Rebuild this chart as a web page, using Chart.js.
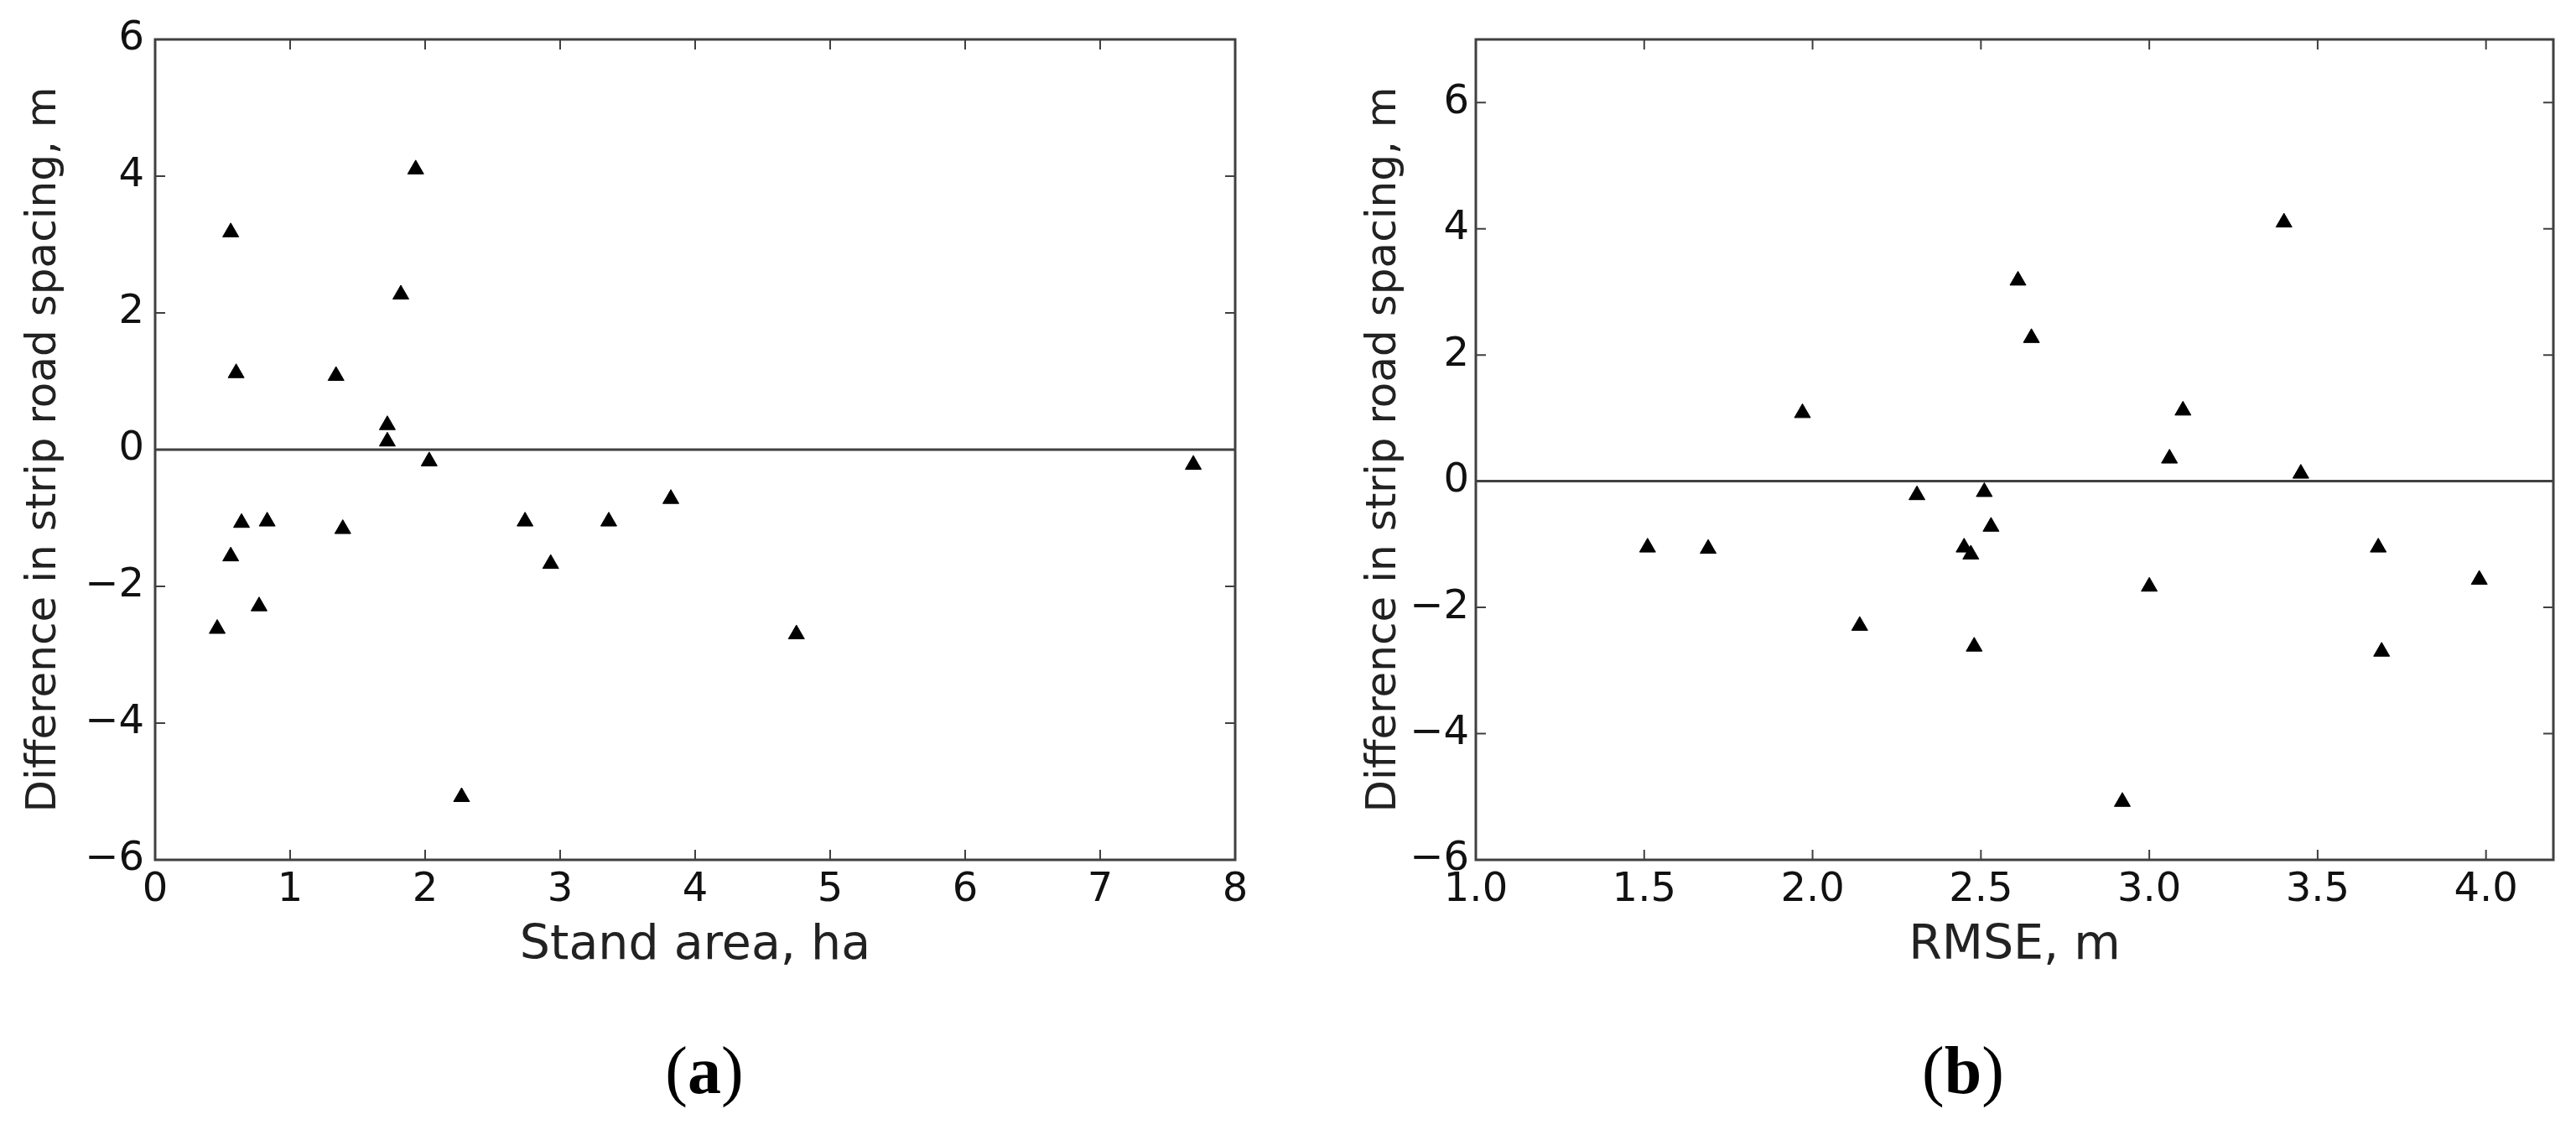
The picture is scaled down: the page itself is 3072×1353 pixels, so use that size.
<!DOCTYPE html>
<html>
<head>
<meta charset="utf-8">
<script src="https://cdn.jsdelivr.net/npm/chart.js@4.4.1/dist/chart.umd.min.js"></script>
<style>
  body { margin: 0; background: #fff; width: 3072px; height: 1353px; position: relative; overflow: hidden; }
  .panel { position: absolute; top: 0; height: 1200px; }
  #panelA { left: 0; width: 1536px; }
  #panelB { left: 1540px; width: 1532px; }
  .cap { position: absolute; top: 1236px; font-family: "Liberation Serif", serif; font-size: 80px; line-height: 80px; color: #000; transform: translateX(-50%); white-space: nowrap; }
</style>
</head>
<body>
<div class="panel" id="panelA"><canvas id="chartA"></canvas></div>
<div class="panel" id="panelB"><canvas id="chartB"></canvas></div>
<div class="cap" style="left:840px">(<b>a</b>)</div>
<div class="cap" style="left:2341px">(<b>b</b>)</div>
<script>
// one value per stand, same order in every array
const difference = [4.10, 3.18, 2.27, 1.12, 1.08, 0.36, 0.12, -0.17, -0.22, -0.72, -1.07,
                    -1.05, -1.05, -1.05, -1.16, -1.56, -1.67, -2.29, -2.62, -2.70, -5.08];
const standArea = [1.93, 0.56, 1.82, 0.60, 1.34, 1.72, 1.72, 2.03, 7.69, 3.82, 0.64,
                   0.83, 2.74, 3.36, 1.39, 0.56, 2.93, 0.77, 0.46, 4.75, 2.27];
const rmse = [3.40, 2.61, 2.65, 3.10, 1.97, 3.06, 3.45, 2.51, 2.31, 2.53, 1.69,
              1.51, 2.45, 3.68, 2.47, 3.98, 3.00, 2.14, 2.48, 3.69, 2.92];

const xTicksA = [0, 1, 2, 3, 4, 5, 6, 7, 8];
const yTicksA = [-6, -4, -2, 0, 2, 4, 6];
const xTicksB = [1.0, 1.5, 2.0, 2.5, 3.0, 3.5, 4.0];
const yTicksB = [-6, -4, -2, 0, 2, 4, 6];

const yTitle = 'Difference in strip road spacing, m';
const axisColor = '#404040';

function fmt(v, digits) {
    const s = Math.abs(v).toFixed(digits);
    return v < 0 ? '\u2212' + s : s;
}

// frame, inward ticks on all four sides and the zero line
const framePlugin = {
    id: 'frame',
    beforeDatasetsDraw(chart) {
        const {ctx, chartArea: a, scales: {y}} = chart;
        const y0 = y.getPixelForValue(0);
        ctx.save();
        ctx.strokeStyle = axisColor;
        ctx.lineWidth = 3;
        ctx.beginPath();
        ctx.moveTo(a.left, y0);
        ctx.lineTo(a.right, y0);
        ctx.stroke();
        ctx.restore();
    },
    afterDraw(chart) {
        const {ctx, chartArea: a, scales: {x, y}} = chart;
        const len = 12;
        ctx.save();
        ctx.strokeStyle = axisColor;
        ctx.lineWidth = 2;
        ctx.beginPath();
        x.ticks.forEach(t => {
            const px = x.getPixelForValue(t.value);
            ctx.moveTo(px, a.bottom); ctx.lineTo(px, a.bottom - len);
            ctx.moveTo(px, a.top); ctx.lineTo(px, a.top + len);
        });
        y.ticks.forEach(t => {
            const py = y.getPixelForValue(t.value);
            ctx.moveTo(a.left, py); ctx.lineTo(a.left + len, py);
            ctx.moveTo(a.right, py); ctx.lineTo(a.right - len, py);
        });
        ctx.stroke();
        ctx.lineWidth = 3;
        ctx.strokeRect(a.left, a.top, a.right - a.left, a.bottom - a.top);
        ctx.restore();
    }
};

function makeChart(id, xs, xTitle, xMin, xMax, xTicks, yMax, yTicks, digits, yWidth, yPad, yTitlePad, padRight) {
    return new Chart(document.getElementById(id), {
        type: 'scatter',
        data: {
            datasets: [{
                data: xs.map((v, i) => ({x: v, y: difference[i]})),
                pointStyle: 'triangle',
                pointRadius: 11,
                pointHoverRadius: 11,
                backgroundColor: '#000',
                borderColor: '#000',
                borderWidth: 1
            }]
        },
        options: {
            responsive: true,
            maintainAspectRatio: false,
            animation: false,
            layout: {padding: {top: 47, right: padRight, bottom: 0, left: 0}},
            plugins: {legend: {display: false}, tooltip: {enabled: false}},
            scales: {
                x: {
                    type: 'linear',
                    min: xMin,
                    max: xMax,
                    afterBuildTicks: s => { s.ticks = xTicks.map(v => ({value: v})); },
                    afterFit: s => { s.height = 175; },
                    grid: {display: false, drawTicks: false},
                    border: {display: false},
                    ticks: {
                        padding: 8,
                        color: '#111',
                        font: {family: 'DejaVu Sans', size: 48},
                        callback: v => fmt(v, digits)
                    },
                    title: {
                        display: true,
                        text: xTitle,
                        color: '#222',
                        font: {family: 'DejaVu Sans', size: 57},
                        padding: {top: 0, bottom: 38}
                    }
                },
                y: {
                    type: 'linear',
                    min: -6,
                    max: yMax,
                    afterBuildTicks: s => { s.ticks = yTicks.map(v => ({value: v})); },
                    afterFit: s => { s.width = yWidth; },
                    grid: {display: false, drawTicks: false},
                    border: {display: false},
                    ticks: {
                        padding: yPad,
                        color: '#111',
                        font: {family: 'DejaVu Sans', size: 48},
                        callback: v => fmt(v, 0)
                    },
                    title: {
                        display: true,
                        text: yTitle,
                        color: '#222',
                        font: {family: 'DejaVu Sans', size: 50},
                        padding: {top: yTitlePad, bottom: 0}
                    }
                }
            }
        },
        plugins: [framePlugin]
    });
}

makeChart('chartA', standArea, 'Stand area, ha', 0, 8, xTicksA, 6, yTicksA, 0, 185, 13, 23, 63);
makeChart('chartB', rmse, 'RMSE, m', 1.0, 4.2, xTicksB, 7, yTicksB, 1, 220, 8, 81, 27);
</script>
</body>
</html>
